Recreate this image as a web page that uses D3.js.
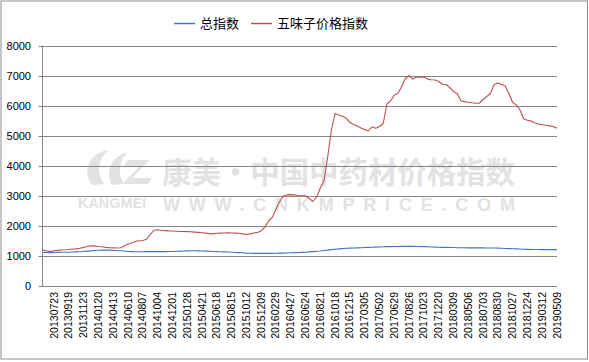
<!DOCTYPE html>
<html><head><meta charset="utf-8">
<script src="https://cdn.jsdelivr.net/npm/d3@7"></script>
<style>html,body{margin:0;padding:0;background:#fff;}svg{display:block;}</style>
</head><body>
<svg id="c" width="589" height="362"></svg>
<script>
const tickLabels = ["20130723","20130919","20131123","20140120","20140413","20140610","20140807","20141004","20141201","20150128","20150421","20150618","20150815","20151012","20151209","20160229","20160427","20160624","20160821","20161018","20161215","20170305","20170502","20170629","20170826","20171023","20171220","20180309","20180506","20180703","20180830","20181027","20181224","20190312","20190509"];
const seriesNames = ["总指数","五味子价格指数"];
const totalIndex = [1100,1100,1095,1100,1105,1110,1110,1110,1115,1120,1125,
1135,1145,1155,1165,1175,1180,1185,1180,1170,1165,
1160,1150,1135,1130,1125,1125,1125,1130,1130,1130,
1130,1130,1130,1135,1135,1140,1145,1150,1155,1160,
1160,1155,1150,1145,1140,1135,1130,1125,1120,1115,
1110,1100,1095,1090,1080,1075,1070,1070,1070,1070,
1070,1070,1075,1080,1080,1085,1090,1095,1100,1105,
1110,1120,1130,1140,1150,1165,1180,1195,1210,1220,
1230,1240,1245,1250,1255,1260,1265,1270,1275,1280,
1285,1290,1295,1295,1300,1300,1305,1305,1305,1305,
1300,1300,1295,1290,1285,1280,1275,1270,1270,1265,
1265,1260,1260,1260,1255,1255,1255,1255,1255,1250,
1250,1250,1245,1240,1235,1230,1225,1220,1215,1210,
1205,1200,1200,1200,1195,1195,1195,1195,1195];
const schisandraIndex = [1180,1150,1130,1160,1170,1185,1190,1200,1215,1220,
1240,1270,1310,1320,1320,1300,1290,1270,1260,1255,
1250,1260,1320,1380,1420,1470,1490,1500,1540,1700,
1840,1860,1840,1830,1820,1815,1810,1800,1800,1795,
1790,1780,1770,1760,1745,1730,1730,1740,1745,1750,
1755,1750,1745,1740,1720,1700,1720,1750,1770,1820,
1950,2150,2270,2550,2800,2980,3020,3030,3020,3000,
2990,2990,2900,2800,2950,3250,3500,4300,5200,5730,
5680,5640,5580,5430,5370,5320,5250,5200,5150,5290,
5240,5300,5400,6050,6150,6350,6400,6630,6900,7000,
6880,6950,6940,6950,6880,6860,6850,6800,6710,6700,
6600,6470,6400,6160,6130,6110,6090,6080,6075,6200,
6300,6400,6700,6750,6700,6650,6400,6100,6020,5850,
5560,5510,5480,5420,5380,5360,5340,5320,5300,5240];
const yTicks = [0,1000,2000,3000,4000,5000,6000,7000,8000];
const labelStart = 3, labelStep = 4;

(function(){
const svg = d3.select("#c");
const colors = ["#4472C4","#C0504D"];
svg.append("rect").attr("x",1).attr("y",1).attr("width",586.5).attr("height",358).attr("fill","#fff").attr("stroke","#8c8c8c").attr("stroke-width",1);

const pLeft = 42.5, pRight = 557, pTop = 45.5, pBottom = 285.5;
const n = schisandraIndex.length;
const x = d3.scaleLinear().domain([0, n-1]).range([43, 557]);
const y = d3.scaleLinear().domain([0, 8000]).range([pBottom, pTop]);

// watermark
const wm = svg.append("g").attr("fill","#e2e2e2");
wm.append("text").attr("x",162).attr("y",183).attr("font-family","Noto Sans CJK SC").attr("font-weight","bold").attr("font-size",30).attr("textLength",353).attr("lengthAdjust","spacingAndGlyphs").text("康美·中国中药材价格指数");
wm.append("text").attr("x",78).attr("y",208).attr("font-family","Liberation Sans, Arial").attr("font-weight","bold").attr("font-size",14).attr("textLength",68).attr("lengthAdjust","spacingAndGlyphs").text("KANGMEI");
wm.append("text").attr("x",163).attr("y",211).attr("font-family","Liberation Sans, Arial").attr("font-weight","bold").attr("font-size",18).attr("textLength",352).attr("lengthAdjust","spacing").text("WWW.CNKMPRICE.COM");
wm.append("path").attr("d","M92,185 C80,170 92,152 108,150 C98,160 96,172 104,184 Z M112,185 C104,172 112,156 128,152 C118,162 118,174 124,184 Z M128,160 L150,160 L132,178 L152,178 L148,184 L122,184 L140,166 L124,166 Z");

// gridlines
svg.append("g").selectAll("line").data(yTicks).join("line")
  .attr("x1", 38.5).attr("x2", pRight).attr("y1", d=>Math.round(y(d))+0.5).attr("y2", d=>Math.round(y(d))+0.5)
  .attr("stroke","#868686").attr("stroke-width",1);
svg.append("line").attr("x1",pLeft).attr("x2",pLeft).attr("y1",pTop).attr("y2",pBottom+0.5).attr("stroke","#868686");

// y labels
svg.append("g").selectAll("text").data(yTicks).join("text")
  .attr("x", 31).attr("y", d=>y(d)+4).attr("text-anchor","end")
  .attr("font-family","Liberation Sans, Arial").attr("font-size",11).attr("fill","#000").text(d=>d);

// x labels
svg.append("g").selectAll("text").data(tickLabels).join("text")
  .attr("transform",(d,i)=>`translate(${x(labelStart+i*labelStep)+3.5},292) rotate(-90)`)
  .attr("text-anchor","end").attr("font-family","Liberation Sans, Arial").attr("font-size",10.5).attr("fill","#000").text(d=>d);

// lines
const line = d3.line().x((d,i)=>x(i)).y(d=>y(d));
[totalIndex, schisandraIndex].forEach((s,k)=>{
  svg.append("path").attr("d", line(s)).attr("fill","none").attr("stroke",colors[k]).attr("stroke-width",1.1).attr("stroke-linejoin","round");
});

// legend
const lg = [{x:174, tx:200}, {x:251, tx:277}];
seriesNames.forEach((name,k)=>{
  svg.append("line").attr("x1",lg[k].x).attr("x2",lg[k].x+21).attr("y1",23.5).attr("y2",23.5).attr("stroke",colors[k]).attr("stroke-width",1.5);
  svg.append("text").attr("x",lg[k].tx).attr("y",28).attr("font-family","Noto Sans CJK SC").attr("font-size",13).attr("fill","#000").text(name);
});
})();
</script>
</body></html>
